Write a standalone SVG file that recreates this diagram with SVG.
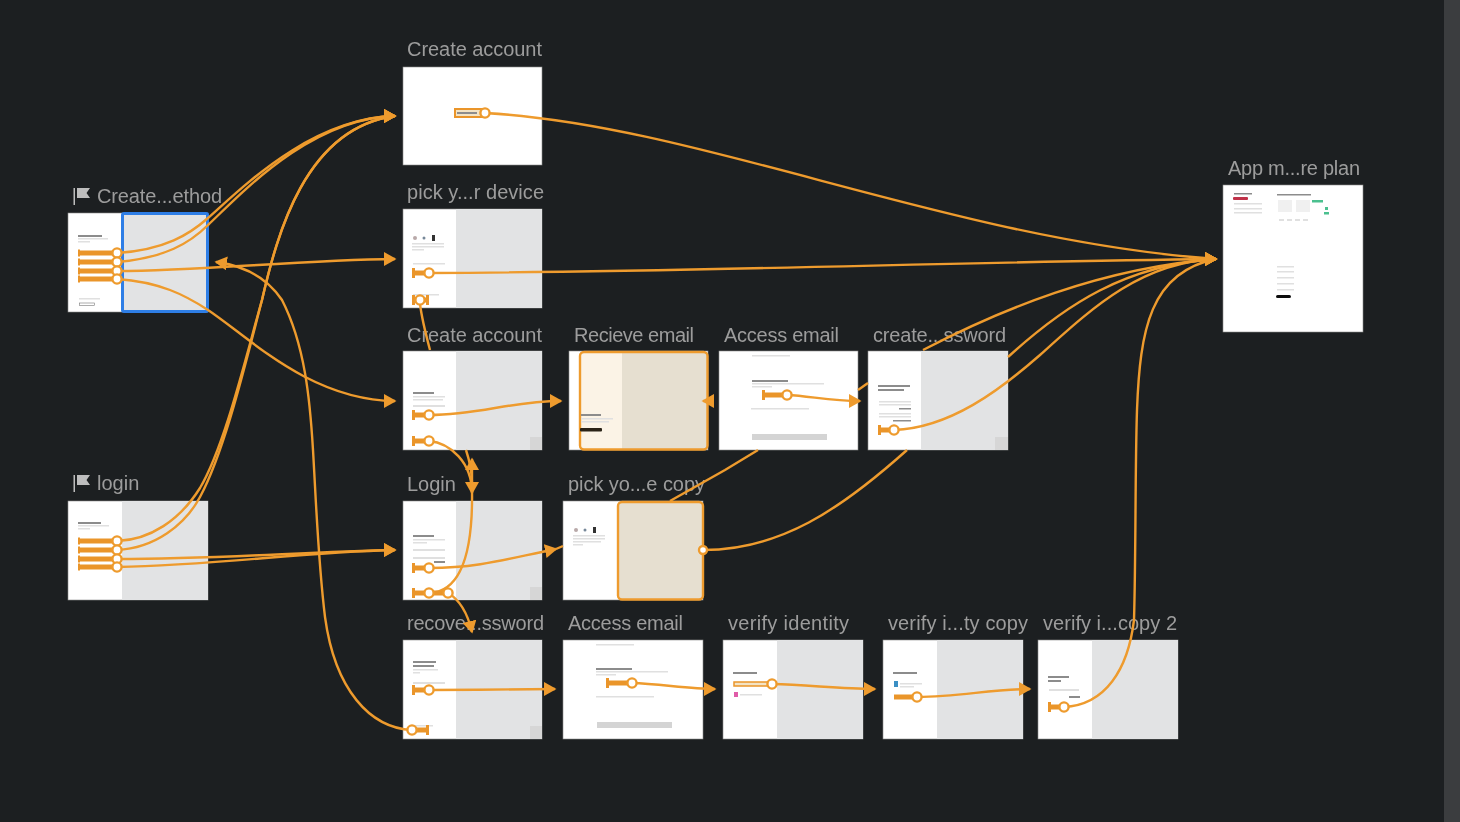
<svg xmlns="http://www.w3.org/2000/svg" width="1460" height="822" viewBox="0 0 1460 822">
<style>
.bg{fill:#1c1f21}
.page{fill:#fff;stroke:#8a8a8a;stroke-width:.6}
.side{fill:#e2e3e4}
.label{font-family:"Liberation Sans",Arial,sans-serif;font-size:20px;fill:#9c9c9c}
.flag{fill:#bdbdbd}
.d{fill:#8c8c8c}
.l{fill:#e0e0e0}
.m{fill:#d6d6d6}
.wire{fill:none;stroke:#ee9b2d;stroke-width:2.4}
.arrow{marker-end:url(#head)}
.arrow-r{marker-end:url(#head-r)}
.tail{fill:#ea952a}
.hot{fill:#fff;stroke:#ee9b2d;stroke-width:2.4}
#nodes,#connectors,#hotspots{filter:url(#soft)}
</style>
<defs>
<filter id="soft" filterUnits="userSpaceOnUse" x="0" y="0" width="1460" height="822"><feGaussianBlur stdDeviation="0.45"/></filter>
<marker id="head" markerUnits="userSpaceOnUse" markerWidth="14" markerHeight="15" refX="11" refY="7" orient="auto"><path d="M0,0 L12.500,7 L0,14 Z" fill="#ee9b2d"/></marker>
<marker id="head-r" markerUnits="userSpaceOnUse" markerWidth="14" markerHeight="15" refX="11" refY="7" orient="0"><path d="M0,0 L12.500,7 L0,14 Z" fill="#ee9b2d"/></marker>
</defs>
<rect class="bg" width="1460" height="822"/>
<rect x="1444" y="0" width="16" height="822" fill="#3b3d3f"/>

<g id="nodes">
<g id="node-create-account">
<text class="label" x="407" y="56" textLength="135">Create account</text>
<rect class="page" x="403" y="67" width="139" height="98"/>
<rect x="455" y="109" width="27" height="8" fill="#f3e3c4" stroke="#ea952a" stroke-width="2"/>
<rect class="d" x="457" y="112" width="20" height="2"/>
</g>

<g id="node-pick-device">
<text class="label" x="407" y="199" textLength="137">pick y...r device</text>
<rect class="page" x="403" y="209" width="139" height="99"/>
<rect class="side" x="456" y="209" width="86" height="99"/>
<circle cx="415" cy="238" r="2" fill="#b9a9a9"/><circle cx="424" cy="238" r="1.500" fill="#789"/><rect x="432" y="235" width="3" height="6" fill="#333"/>
<rect class="l" x="412" y="243" width="32" height="1.500"/><rect class="l" x="412" y="246" width="32" height="1.500"/><rect class="l" x="412" y="249" width="12" height="1.500"/>
<rect class="l" x="413" y="263" width="32" height="1.500"/>
<rect class="l" x="413" y="294" width="26" height="1.500"/>
</g>

<g id="node-create-account-2">
<text class="label" x="407" y="342" textLength="135">Create account</text>
<rect class="page" x="403" y="351" width="139" height="99"/>
<rect class="side" x="456" y="351" width="86" height="99"/>
<rect class="d" x="413" y="392" width="21" height="2"/>
<rect class="l" x="413" y="396" width="32" height="1.500"/><rect class="l" x="413" y="399" width="30" height="1.500"/>
<rect class="l" x="413" y="405" width="32" height="2"/>
<rect class="m" x="530" y="437" width="12" height="13"/>
</g>

<g id="node-recieve-email">
<text class="label" x="574" y="342" textLength="120">Recieve email</text>
<rect class="page" x="569" y="351" width="139" height="99"/>
<rect x="579" y="352" width="129" height="98" rx="4" fill="#e6dfd0"/>
<path d="M583,352 H622 V450 H583 Q579,450 579,446 V356 Q579,352 583,352 Z" fill="#fbf3e6"/>
<rect x="580" y="352" width="127.500" height="97.500" rx="4" fill="none" stroke="#ee9b2d" stroke-width="2.400"/>
<rect class="d" x="581" y="414" width="20" height="2"/>
<rect class="l" x="581" y="418" width="32" height="1.500"/><rect class="l" x="581" y="421" width="28" height="1.500"/>
<rect x="580" y="428" width="22" height="3.500" rx="1" fill="#2a2418"/>
</g>

<g id="node-access-email">
<text class="label" x="724" y="342" textLength="115">Access email</text>
<rect class="page" x="719" y="351" width="139" height="99"/>
<rect class="l" x="752" y="355" width="38" height="1.500"/>
<rect class="d" x="752" y="380" width="36" height="2"/>
<rect class="l" x="752" y="383" width="72" height="1.500"/><rect class="l" x="752" y="386" width="20" height="1.500"/>
<rect class="l" x="751" y="408" width="58" height="1.500"/>
<rect x="752" y="434" width="75" height="6" fill="#d4d4d4"/>
</g>

<g id="node-create-password">
<text class="label" x="873" y="342" textLength="133">create...ssword</text>
<rect class="page" x="868" y="351" width="140" height="99"/>
<rect class="side" x="921" y="351" width="87" height="99"/>
<rect class="d" x="878" y="385" width="32" height="2"/><rect class="d" x="878" y="389" width="26" height="2"/>
<rect class="l" x="879" y="401" width="32" height="1.500"/><rect class="l" x="879" y="404" width="32" height="1.500"/>
<rect class="d" x="899" y="408" width="12" height="1.500"/>
<rect class="l" x="879" y="413" width="32" height="1.500"/><rect class="l" x="879" y="416" width="32" height="1.500"/>
<rect class="d" x="893" y="420" width="18" height="1.500"/>
<rect class="m" x="995" y="437" width="13" height="13"/>
</g>

<g id="node-create-method">
<path class="flag" d="M73.500,188 H75 V205 H73.500 Z M77,188 H90 L86.500,193 L90,198 H77 Z"/>
<text class="label" x="97" y="203" textLength="125">Create...ethod</text>
<rect class="page" x="68" y="213" width="140" height="99"/>
<rect x="122.500" y="213.500" width="85" height="98" rx="1.500" fill="#e2e3e4" stroke="#2f7ee6" stroke-width="3"/>
<rect class="d" x="78" y="235" width="24" height="2"/>
<rect class="l" x="78" y="238" width="30" height="1.500"/><rect class="l" x="78" y="241" width="12" height="1.500"/>
<rect class="l" x="79" y="298" width="21" height="1.500"/>
<rect x="79.500" y="303" width="15" height="2.500" fill="#fff" stroke="#777" stroke-width=".6"/>
</g>

<g id="node-login-flow">
<path class="flag" d="M73.500,475 H75 V492 H73.500 Z M77,475 H90 L86.500,480 L90,485 H77 Z"/>
<text class="label" x="97" y="490">login</text>
<rect class="page" x="68" y="501" width="140" height="99"/>
<rect class="side" x="122" y="501" width="86" height="99"/>
<rect class="d" x="78" y="522" width="23" height="2"/>
<rect class="l" x="78" y="525" width="31" height="1.500"/><rect class="l" x="78" y="528" width="12" height="1.500"/>
</g>

<g id="node-login">
<text class="label" x="407" y="491">Login</text>
<rect class="page" x="403" y="501" width="139" height="99"/>
<rect class="side" x="456" y="501" width="86" height="99"/>
<rect class="d" x="413" y="535" width="21" height="2"/>
<rect class="l" x="413" y="539" width="32" height="1.500"/><rect class="l" x="413" y="542" width="14" height="1.500"/>
<rect class="l" x="413" y="549" width="32" height="2"/><rect class="l" x="413" y="557" width="32" height="2"/>
<rect class="d" x="434" y="561" width="11" height="2"/>
<rect class="m" x="530" y="587" width="12" height="13"/>
</g>

<g id="node-pick-copy">
<text class="label" x="568" y="491" textLength="137">pick yo...e copy</text>
<rect class="page" x="563" y="501" width="140" height="99"/>
<rect x="618" y="502" width="85" height="97.500" rx="4" fill="#e6dfd0" stroke="#ee9b2d" stroke-width="2.400"/>
<circle cx="576" cy="530" r="2" fill="#b9a9a9"/><circle cx="585" cy="530" r="1.500" fill="#789"/><rect x="593" y="527" width="3" height="6" fill="#333"/>
<rect class="l" x="573" y="535" width="32" height="1.500"/><rect class="l" x="573" y="538" width="32" height="1.500"/><rect class="l" x="573" y="541" width="28" height="1.500"/><rect class="l" x="573" y="544" width="10" height="1.500"/>
</g>

<g id="node-recover-password">
<text class="label" x="407" y="630" textLength="137">recove...ssword</text>
<rect class="page" x="403" y="640" width="139" height="99"/>
<rect class="side" x="456" y="640" width="86" height="99"/>
<rect class="d" x="413" y="661" width="23" height="2"/><rect class="d" x="413" y="665" width="21" height="2"/>
<rect class="l" x="413" y="669" width="25" height="1.500"/><rect class="l" x="413" y="672" width="7" height="1.500"/>
<rect class="l" x="413" y="682" width="32" height="2"/>
<rect class="l" x="413" y="725" width="20" height="1.500"/>
<rect class="m" x="530" y="726" width="12" height="13"/>
</g>

<g id="node-access-email-2">
<text class="label" x="568" y="630" textLength="115">Access email</text>
<rect class="page" x="563" y="640" width="140" height="99"/>
<rect class="l" x="596" y="644" width="38" height="1.500"/>
<rect class="d" x="596" y="668" width="36" height="2"/>
<rect class="l" x="596" y="671" width="72" height="1.500"/><rect class="l" x="596" y="674" width="20" height="1.500"/>
<rect class="l" x="596" y="696" width="58" height="1.500"/>
<rect x="597" y="722" width="75" height="6" fill="#d4d4d4"/>
</g>

<g id="node-verify-identity">
<text class="label" x="728" y="630" textLength="121">verify identity</text>
<rect class="page" x="723" y="640" width="140" height="99"/>
<rect class="side" x="777" y="640" width="86" height="99"/>
<rect class="d" x="733" y="672" width="24" height="2"/>
<rect x="734" y="692" width="4" height="5" fill="#e05ba8"/>
<rect class="l" x="740" y="694" width="22" height="1.500"/>
</g>

<g id="node-verify-copy">
<text class="label" x="888" y="630" textLength="140">verify i...ty copy</text>
<rect class="page" x="883" y="640" width="140" height="99"/>
<rect class="side" x="937" y="640" width="86" height="99"/>
<rect class="d" x="893" y="672" width="24" height="2"/>
<rect x="894" y="681" width="4" height="6" fill="#3b8fc4"/>
<rect class="l" x="900" y="683" width="22" height="1.500"/><rect class="l" x="900" y="686" width="14" height="1.500"/>
</g>

<g id="node-verify-copy-2">
<text class="label" x="1043" y="630" textLength="134">verify i...copy 2</text>
<rect class="page" x="1038" y="640" width="140" height="99"/>
<rect class="side" x="1092" y="640" width="86" height="99"/>
<rect class="d" x="1048" y="676" width="21" height="2"/><rect class="d" x="1048" y="680" width="13" height="2"/>
<rect class="l" x="1049" y="689" width="30" height="2"/>
<rect class="d" x="1069" y="696" width="11" height="2"/>
</g>

<g id="node-app-plan">
<text class="label" x="1228" y="175" textLength="132">App m...re plan</text>
<rect class="page" x="1223" y="185" width="140" height="147"/>
<rect class="d" x="1234" y="193" width="18" height="1.500"/>
<rect x="1233" y="197" width="15" height="3" rx="1" fill="#c0304a"/>
<rect class="l" x="1234" y="203" width="28" height="1.500"/><rect class="l" x="1234" y="208" width="28" height="1.500"/><rect class="l" x="1234" y="212" width="28" height="1.500"/>
<rect class="d" x="1277" y="194" width="34" height="1.500"/>
<rect x="1278" y="200" width="14" height="12" fill="#f0f0f0"/><rect x="1296" y="200" width="14" height="12" fill="#f0f0f0"/>
<rect x="1312" y="200" width="11" height="2.500" fill="#4cc08f"/>
<rect x="1325" y="207" width="3" height="3" fill="#4cc08f"/><rect x="1324" y="212" width="5" height="2.500" fill="#4cc08f"/>
<rect class="l" x="1279" y="219" width="5" height="2"/><rect class="l" x="1287" y="219" width="5" height="2"/><rect class="l" x="1295" y="219" width="5" height="2"/><rect class="l" x="1303" y="219" width="5" height="2"/>
<rect class="l" x="1277" y="266" width="17" height="1.500"/><rect class="l" x="1277" y="271" width="17" height="1.500"/><rect class="l" x="1277" y="277" width="17" height="1.500"/><rect class="l" x="1277" y="283" width="17" height="1.500"/><rect class="l" x="1277" y="289" width="17" height="1.500"/>
<rect x="1276" y="295" width="15" height="3" rx="1.500" fill="#111"/>
</g>
</g>

<g id="connectors">
<path class="wire arrow-r" d="M117,253 C165,250 190,234 208,218 C240,190 310,118 395,116"/>
<path class="wire arrow-r" d="M117,262 C165,258 190,243 208,225 C240,195 310,118 395,116"/>
<path class="wire arrow-r" d="M117,271 C200,271 300,260 395,259"/>
<path class="wire arrow-r" d="M117,279 C160,282 185,295 208,310 C250,338 310,400 395,401"/>
<path class="wire arrow-r" d="M117,541 C150,540 180,520 200,488 C225,445 245,360 262,300 C277,235 305,128 395,116"/>
<path class="wire arrow-r" d="M117,550 C155,548 185,525 200,497 C225,450 245,365 262,300 C277,235 305,128 395,116"/>
<path class="wire arrow-r" d="M117,559 C220,559 300,552 395,550"/>
<path class="wire arrow-r" d="M117,567 C220,565 300,552 395,550"/>
<path class="wire arrow-r" d="M485,113 C700,125 950,240 1216,259"/>
<path class="wire arrow-r" d="M429,273 C700,272 950,262 1216,259"/>
<path class="wire" d="M420,304 C422,320 426,335 430,350"/>
<path class="wire" d="M466,450 C470,462 472,474 472,484"/>
<path class="wire arrow-r" d="M429,415 C480,415 510,401 561,401"/>
<path class="wire arrow" d="M429,441 C450,443 472,462 472,493"/>
<path class="wire arrow" d="M429,593 C462,592 473,550 472,490 L472,459"/>
<path class="wire arrow" d="M448,593 C460,600 468,615 472,632"/>
<path class="wire arrow" d="M429,568 C480,568 510,558 556,549"/>
<path class="wire" d="M556,549 L563,546"/>
<path class="wire arrow" d="M714,401 L703,401"/>
<path class="wire arrow-r" d="M787,395 C810,396 830,401 860,401"/>
<path class="wire" d="M670,501 L725,470 L758,450"/>
<path class="wire" d="M858,390 L868,383"/>
<path class="wire arrow-r" d="M923,350 C1000,310 1100,268 1216,259"/>
<path class="wire" d="M703,550 C780,550 840,510 907,450"/>
<path class="wire arrow-r" d="M1008,357 C1065,305 1125,265 1216,259"/>
<path class="wire arrow-r" d="M894,430 C950,428 1000,390 1040,355 C1090,310 1140,262 1216,259"/>
<path class="wire arrow-r" d="M1064,707 C1105,705 1128,670 1134,620 C1136,550 1135,470 1137,410 C1140,330 1150,272 1216,259"/>
<path class="wire arrow-r" d="M429,690 C470,690 520,689 555,689"/>
<path class="wire arrow" d="M412,730 C370,728 335,690 325,617 C318,560 316,500 313,450 C310,400 305,345 282,300 C265,275 240,265 216,262"/>
<path class="wire arrow-r" d="M632,683 C660,684 690,689 715,689"/>
<path class="wire arrow-r" d="M772,684 C810,685 840,689 875,689"/>
<path class="wire arrow-r" d="M917,697 C960,697 990,689 1030,689"/>
</g>

<g id="hotspots">
<rect class="tail" x="79" y="250.500" width="36" height="5"/><rect class="tail" x="78" y="249.500" width="2" height="7"/><circle class="hot" cx="117" cy="253" r="4.600"/>
<rect class="tail" x="79" y="259.500" width="36" height="5"/><rect class="tail" x="78" y="258.500" width="2" height="7"/><circle class="hot" cx="117" cy="262" r="4.600"/>
<rect class="tail" x="79" y="268.500" width="36" height="5"/><rect class="tail" x="78" y="267.500" width="2" height="7"/><circle class="hot" cx="117" cy="271" r="4.600"/>
<rect class="tail" x="79" y="276.500" width="36" height="5"/><rect class="tail" x="78" y="275.500" width="2" height="7"/><circle class="hot" cx="117" cy="279" r="4.600"/>
<rect class="tail" x="79" y="538.500" width="36" height="5"/><rect class="tail" x="78" y="537.500" width="2" height="7"/><circle class="hot" cx="117" cy="541" r="4.600"/>
<rect class="tail" x="79" y="547.500" width="36" height="5"/><rect class="tail" x="78" y="546.500" width="2" height="7"/><circle class="hot" cx="117" cy="550" r="4.600"/>
<rect class="tail" x="79" y="556.500" width="36" height="5"/><rect class="tail" x="78" y="555.500" width="2" height="7"/><circle class="hot" cx="117" cy="559" r="4.600"/>
<rect class="tail" x="79" y="564.500" width="36" height="5"/><rect class="tail" x="78" y="563.500" width="2" height="7"/><circle class="hot" cx="117" cy="567" r="4.600"/>
<circle class="hot" cx="485" cy="113" r="4.600"/>
<rect class="tail" x="413" y="270.500" width="14" height="5"/><rect class="tail" x="412" y="268" width="3" height="10"/><circle class="hot" cx="429" cy="273" r="4.600"/>
<rect class="tail" x="413" y="297.500" width="15" height="5"/><rect class="tail" x="412" y="295" width="3" height="10"/><rect class="tail" x="426" y="295" width="3" height="10"/><circle class="hot" cx="420" cy="300" r="4.600"/>
<rect class="tail" x="413" y="412.500" width="14" height="5"/><rect class="tail" x="412" y="410" width="3" height="10"/><circle class="hot" cx="429" cy="415" r="4.600"/>
<rect class="tail" x="413" y="438.500" width="14" height="5"/><rect class="tail" x="412" y="436" width="3" height="10"/><circle class="hot" cx="429" cy="441" r="4.600"/>
<rect class="tail" x="413" y="565.500" width="14" height="5"/><rect class="tail" x="412" y="563" width="3" height="10"/><circle class="hot" cx="429" cy="568" r="4.600"/>
<rect class="tail" x="413" y="590.500" width="34" height="5"/><rect class="tail" x="412" y="588" width="3" height="10"/><circle class="hot" cx="429" cy="593" r="4.600"/><circle class="hot" cx="448" cy="593" r="4.600"/>
<rect class="tail" x="763" y="392.500" width="22" height="5"/><rect class="tail" x="762" y="390" width="3" height="10"/><circle class="hot" cx="787" cy="395" r="4.600"/>
<rect class="tail" x="879" y="427.500" width="14" height="5"/><rect class="tail" x="878" y="425" width="3" height="10"/><circle class="hot" cx="894" cy="430" r="4.600"/>
<circle class="hot" cx="703" cy="550" r="4"/>
<rect class="tail" x="413" y="687.500" width="14" height="5"/><rect class="tail" x="412" y="685" width="3" height="10"/><circle class="hot" cx="429" cy="690" r="4.600"/>
<rect class="tail" x="415" y="727.500" width="13" height="5"/><rect class="tail" x="426" y="725" width="3" height="10"/><circle class="hot" cx="412" cy="730" r="4.600"/>
<rect class="tail" x="607" y="680.500" width="24" height="5"/><rect class="tail" x="606" y="678" width="3" height="10"/><circle class="hot" cx="632" cy="683" r="4.600"/>
<rect x="734" y="682" width="36" height="4" fill="#f3e3c4" stroke="#ea952a" stroke-width="1.500"/><circle class="hot" cx="772" cy="684" r="4.600"/>
<rect class="tail" x="894" y="694.500" width="22" height="5"/><circle class="hot" cx="917" cy="697" r="4.600"/>
<rect class="tail" x="1049" y="704.500" width="14" height="5"/><rect class="tail" x="1048" y="702" width="3" height="10"/><circle class="hot" cx="1064" cy="707" r="4.600"/>
</g>
</svg>
